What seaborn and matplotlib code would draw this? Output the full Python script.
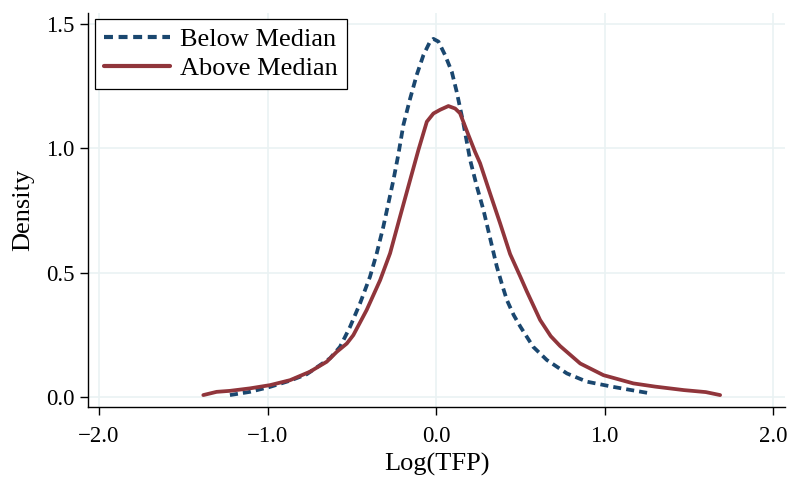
import pandas as pd
import matplotlib
matplotlib.use("Agg")
import matplotlib.pyplot as plt
import seaborn as sns

# density curves
below_x = [-1.223, -1.104, -0.985, -0.866, -0.767, -0.629, -0.570, -0.540, -0.510, -0.451, -0.392,
           -0.352, -0.313, -0.283, -0.253, -0.224, -0.194, -0.154, -0.115, -0.075, -0.036, -0.016,
           0.014, 0.053, 0.093, 0.122, 0.162, 0.202, 0.242, 0.281, 0.320, 0.360, 0.390, 0.420,
           0.460, 0.500, 0.576, 0.657, 0.776, 0.894, 1.05, 1.15, 1.27]
below_y = [0.008, 0.021, 0.041, 0.066, 0.092, 0.156, 0.202, 0.242, 0.283, 0.377, 0.484,
           0.578, 0.685, 0.779, 0.873, 0.975, 1.094, 1.20, 1.295, 1.375, 1.429, 1.44,
           1.429, 1.375, 1.308, 1.228, 1.10, 0.953, 0.846, 0.752, 0.64, 0.525, 0.455, 0.39,
           0.33, 0.283, 0.202, 0.149, 0.095, 0.062, 0.041, 0.029, 0.015]

above_x = [-1.381, -1.302, -1.223, -1.104, -0.985, -0.866, -0.748, -0.649, -0.589, -0.530, -0.491,
           -0.412, -0.332, -0.273, -0.214, -0.154, -0.105, -0.055, -0.016, 0.024, 0.073, 0.113,
           0.142, 0.192, 0.231, 0.261, 0.320, 0.380, 0.439, 0.499, 0.538, 0.617, 0.680, 0.736,
           0.855, 0.993, 1.17, 1.30, 1.47, 1.60, 1.685]
above_y = [0.008, 0.021, 0.025, 0.035, 0.048, 0.068, 0.102, 0.142, 0.182, 0.215, 0.249,
           0.35, 0.47, 0.578, 0.725, 0.873, 0.993, 1.107, 1.14, 1.155, 1.17, 1.16,
           1.141, 1.053, 0.986, 0.94, 0.819, 0.698, 0.575, 0.485, 0.425, 0.31, 0.245, 0.205,
           0.135, 0.088, 0.055, 0.042, 0.028, 0.020, 0.008]

xticks = [-2.0, -1.0, 0.0, 1.0, 2.0]
yticks = [0.0, 0.5, 1.0, 1.5]

df = pd.concat([
    pd.DataFrame({"x": below_x, "y": below_y, "group": "Below Median"}),
    pd.DataFrame({"x": above_x, "y": above_y, "group": "Above Median"}),
], ignore_index=True)

sns.set_style("white")
plt.rcParams["font.family"] = ["Liberation Serif", "DejaVu Serif"]
plt.rcParams["text.color"] = "black"
plt.rcParams["axes.labelcolor"] = "black"

fig = plt.figure(figsize=(7.9, 4.78), dpi=100)
ax = fig.add_axes([0.1114, 0.1485, 0.8823, 0.8243])

sns.lineplot(data=df, x="x", y="y", hue="group", style="group", sort=False,
             palette={"Below Median": "#1a476f", "Above Median": "#90353b"},
             dashes={"Below Median": (2.15, 1.35), "Above Median": ""},
             linewidth=2.7, ax=ax)

ax.set_xlim(-2.065, 2.07)
ax.set_ylim(-0.04, 1.544)
ax.set_xticks(xticks)
ax.set_yticks(yticks)
ax.set_xticklabels([f"{t:.1f}".replace("-", "\u2212") for t in xticks])
ax.set_yticklabels([f"{t:.1f}" for t in yticks])
ax.grid(True, color="#eaf2f3", linewidth=1.2)
ax.set_axisbelow(True)

for side in ["top", "right"]:
    ax.spines[side].set_visible(False)
for side in ["left", "bottom"]:
    ax.spines[side].set_color("black")
    ax.spines[side].set_linewidth(1.0)

ax.tick_params(axis="both", direction="out", length=5.5, width=1.0, color="black",
               labelsize=16.5, labelcolor="black", bottom=True, left=True)
ax.tick_params(axis="x", pad=8)
ax.tick_params(axis="y", pad=4)
ax.set_xlabel("Log(TFP)", fontsize=19, labelpad=4.5)
ax.set_ylabel("Density", fontsize=19, labelpad=9)

leg = ax.legend(loc="upper left", bbox_to_anchor=(0.01, 0.985), borderaxespad=0, fontsize=19,
                frameon=True, fancybox=False, framealpha=1, edgecolor="black", handlelength=2.5,
                borderpad=0.33, labelspacing=0.22, handletextpad=0.4)
leg.get_frame().set_linewidth(0.9)
for line in leg.get_lines():
    line.set_linewidth(3.0)

fig.savefig("out.png", dpi=100)
